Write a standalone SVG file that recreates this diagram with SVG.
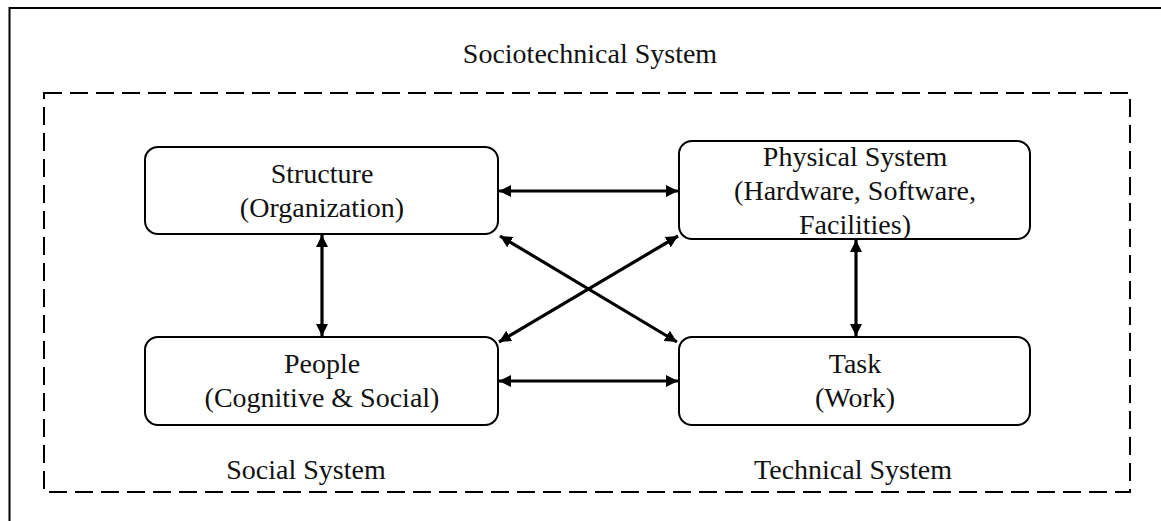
<svg xmlns="http://www.w3.org/2000/svg" width="1161" height="521" viewBox="0 0 1161 521">
  <style>
    .frame { fill: none; stroke: #000; stroke-width: 2; }
    .boundary { fill: none; stroke: #000; stroke-width: 2; stroke-dasharray: 18 8; }
    .box { fill: #fff; stroke: #000; stroke-width: 2; }
    .label { font-family: "Liberation Serif", "Times New Roman", serif; font-size: 28px; fill: #111; text-anchor: middle; }
    .link { fill: none; stroke: #000; stroke-width: 3.2; marker-start: url(#head); marker-end: url(#head); }
  </style>
  <defs>
    <marker id="head" viewBox="0 0 10 10" refX="10" refY="5" markerWidth="12" markerHeight="12" markerUnits="userSpaceOnUse" orient="auto-start-reverse">
      <path d="M0,0 L10,5 L0,10 Z" fill="#000"/>
    </marker>
  </defs>

  <rect width="1161" height="521" fill="#fff"/>

  <!-- outer frame (left and top edges) -->
  <path class="frame" d="M9.5,521 V8 H1161"/>
  <text class="label" x="590" y="63">Sociotechnical System</text>

  <!-- dashed system boundary -->
  <rect class="boundary" x="44" y="93" width="1086" height="399"/>
  <text class="label" x="306" y="479">Social System</text>
  <text class="label" x="853" y="479">Technical System</text>

  <g id="connectors">
    <line class="link" x1="499" y1="191" x2="678" y2="191"/>
    <line class="link" x1="499" y1="381" x2="678" y2="381"/>
    <line class="link" x1="322" y1="235" x2="322" y2="336"/>
    <line class="link" x1="856" y1="240" x2="856" y2="336"/>
    <line class="link" x1="500" y1="236" x2="677" y2="342"/>
    <line class="link" x1="499" y1="342" x2="678" y2="236"/>
  </g>

  <g id="structure">
    <rect class="box" x="145" y="147" width="353" height="87" rx="13"/>
    <text class="label" x="322" y="183">Structure</text>
    <text class="label" x="322" y="217">(Organization)</text>
  </g>

  <g id="physical-system">
    <rect class="box" x="679" y="141" width="351" height="98" rx="13"/>
    <text class="label" x="855" y="166">Physical System</text>
    <text class="label" x="855" y="200">(Hardware, Software,</text>
    <text class="label" x="855" y="234">Facilities)</text>
  </g>

  <g id="people">
    <rect class="box" x="145" y="337" width="353" height="88" rx="13"/>
    <text class="label" x="322" y="373">People</text>
    <text class="label" x="322" y="407">(Cognitive &amp; Social)</text>
  </g>

  <g id="task">
    <rect class="box" x="679" y="337" width="351" height="88" rx="13"/>
    <text class="label" x="855" y="373">Task</text>
    <text class="label" x="855" y="407">(Work)</text>
  </g>
</svg>
